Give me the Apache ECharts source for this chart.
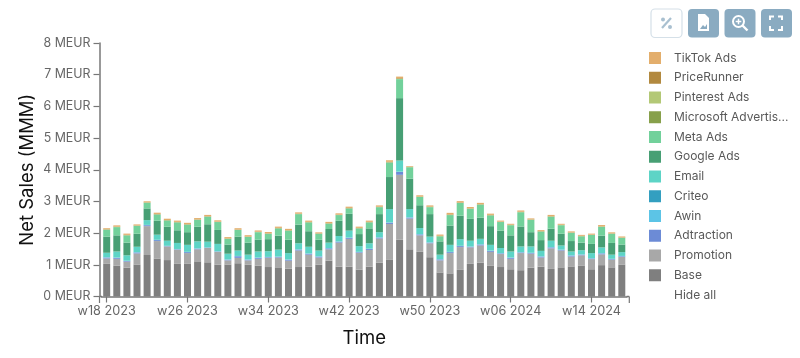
<!DOCTYPE html>
<html><head><meta charset="utf-8">
<style>html,body{margin:0;padding:0;background:#fff}#c{width:800px;height:358px}</style>
<script src="https://cdn.jsdelivr.net/npm/echarts@6/dist/echarts.min.js"></script>
</head><body><div id="c"></div>
<script>
const weeks = ['w18 2023','w19 2023','w20 2023','w21 2023','w22 2023','w23 2023','w24 2023','w25 2023','w26 2023','w27 2023','w28 2023','w29 2023','w30 2023','w31 2023','w32 2023','w33 2023','w34 2023','w35 2023','w36 2023','w37 2023','w38 2023','w39 2023','w40 2023','w41 2023','w42 2023','w43 2023','w44 2023','w45 2023','w46 2023','w47 2023','w48 2023','w49 2023','w50 2023','w51 2023','w52 2023','w01 2024','w02 2024','w03 2024','w04 2024','w05 2024','w06 2024','w07 2024','w08 2024','w09 2024','w10 2024','w11 2024','w12 2024','w13 2024','w14 2024','w15 2024','w16 2024','w17 2024'];
const base = [1.03,.97,.91,1.01,1.31,1.20,1.15,1.03,1.03,1.11,1.08,1.00,1.01,1.05,1.00,.97,.93,.92,.88,.93,.94,1.00,1.13,.94,.94,.85,.94,1.07,1.17,1.79,1.49,1.41,1.24,.76,.73,.84,1.03,1.07,.98,.93,.86,.83,.91,.94,.87,.92,.95,.98,.86,.99,.92,1.01];
const promotion = [.17,.22,.19,.35,.91,.55,.43,.45,.34,.38,.45,.41,.13,.17,.14,.22,.29,.31,.25,.52,.38,.23,.36,.76,.88,.53,.53,.76,1.12,2.05,.97,.52,.44,.38,.64,.72,.52,.54,.43,.41,.33,.54,.44,.29,.65,.53,.31,.32,.32,.34,.24,.24];
const adtraction = [.03,.03,.02,.03,.03,.03,.01,.01,.03,.02,.01,.01,.02,.05,.02,.03,.02,.02,.03,.03,.03,.03,.03,.03,.03,.02,.03,.03,.04,.09,.03,.03,.02,.03,.03,.03,.02,.03,.03,.02,.03,.02,.02,.03,.03,.02,.03,.02,.02,.03,.02,.02];
const awin = [.01,.01,.01,.01,.01,.01,.01,.01,.01,.01,.01,.01,.01,.01,.01,.01,.01,.01,.01,.01,.01,.01,.01,.01,.01,.01,.01,.01,.01,.01,.01,.01,.01,.01,.01,.01,.01,.01,.01,.01,.01,.01,.01,.01,.01,.01,.01,.01,.01,.01,.01,.01];
const criteo = [0,0,0,0,0,0,0,0,0,0,0,0,0,0,0,0,0,0,0,0,0,0,0,0,0,0,0,0,0,0,0,0,0,0,0,0,0,0,0,0,0,0,0,0,0,0,0,0,0,0,0,0];
const email = [.14,.19,.17,.17,.15,.16,.16,.19,.22,.22,.18,.23,.18,.17,.15,.19,.18,.22,.20,.19,.21,.18,.17,.17,.22,.18,.17,.16,.42,.35,.26,.19,.18,.14,.22,.21,.18,.17,.18,.16,.19,.18,.20,.17,.20,.13,.12,.13,.16,.18,.13,.12];
const googleAds = [.51,.51,.40,.41,.37,.44,.44,.40,.40,.46,.55,.44,.29,.44,.38,.37,.38,.44,.42,.59,.49,.34,.43,.48,.53,.38,.47,.57,1.01,1.97,.96,.72,.71,.42,.61,.74,.69,.67,.59,.55,.51,.63,.45,.34,.38,.37,.33,.24,.29,.37,.37,.24];
const metaAds = [.22,.26,.23,.25,.18,.20,.20,.25,.24,.22,.24,.25,.18,.21,.18,.24,.17,.23,.29,.33,.28,.19,.17,.18,.17,.18,.19,.22,.46,.60,.36,.26,.22,.16,.33,.40,.32,.41,.34,.27,.32,.45,.39,.27,.38,.27,.26,.20,.28,.28,.29,.21];
const microsoftAds = [0,0,0,0,0,0,0,0,0,0,0,0,0,0,0,0,0,0,0,0,0,0,0,0,0,0,0,0,0,0,0,0,0,0,0,0,0,0,0,0,0,0,0,0,0,0,0,0,0,0,0,0];
const pinterestAds = [.005,.005,.005,.005,.005,.005,.005,.005,.005,.005,.005,.005,.005,.005,.005,.005,.005,.005,.005,.005,.005,.005,.005,.005,.005,.005,.005,.005,.005,.01,.005,.005,.005,.005,.005,.005,.005,.005,.005,.005,.005,.005,.005,.005,.005,.005,.005,.005,.005,.005,.005,.005];
const priceRunner = [.01,.01,.01,.01,.01,.01,.01,.01,.01,.01,.01,.01,.01,.01,.01,.01,.01,.01,.01,.01,.01,.01,.01,.01,.01,.01,.01,.01,.015,.02,.01,.01,.01,.01,.015,.015,.01,.01,.01,.01,.01,.01,.01,.01,.01,.01,.01,.01,.01,.01,.01,.01];
const tiktokAds = [.03,.04,.04,.03,.03,.04,.04,.04,.04,.04,.04,.04,.04,.04,.04,.04,.04,.04,.04,.04,.04,.03,.04,.04,.04,.04,.04,.04,.05,.05,.02,.04,.04,.04,.05,.04,.04,.04,.04,.03,.03,.04,.03,.03,.04,.03,.03,.03,.03,.04,.03,.03];

const names = ['Base','Promotion','Adtraction','Awin','Criteo','Email','Google Ads','Meta Ads','Microsoft Advertising','Pinterest Ads','PriceRunner','TikTok Ads'];
const values = [base,promotion,adtraction,awin,criteo,email,googleAds,metaAds,microsoftAds,pinterestAds,priceRunner,tiktokAds];
const colors = ['#7f7f7f','#a8a8a8','#6c8bd6','#5cc4e6','#339fc0','#5dd4c6','#479f74','#72d19b','#87a04b','#b3c876','#b2893f','#e3ae6c'];
const axisCol = '#777';
const textCol = '#666';
const nameCol = '#111';
const font = 'Inter';

function btn(x, filled){
  return {type:'rect',shape:{x:x,y:9,width:31,height:28.5,r:4},
    style:filled?{fill:'#8aabc1'}:{fill:'#fff',stroke:'#d5e0e8',lineWidth:1.2},silent:true};
}
function poly(points, stroke, w){
  return {type:'polyline',shape:{points:points},style:{fill:'none',stroke:stroke,lineWidth:w},silent:true};
}
function seg(x1,y1,x2,y2,stroke,w){
  return {type:'line',shape:{x1:x1,y1:y1,x2:x2,y2:y2},style:{stroke:stroke,lineWidth:w},silent:true};
}
const chart = echarts.init(document.getElementById('c'),null,{renderer:'canvas'});
chart.setOption({
  animation:false,
  color:colors,
  textStyle:{fontFamily:font},
  grid:{left:101.65,width:525.2,top:43,bottom:61.5,containLabel:false},
  legend:{orient:'vertical',left:649,top:52,padding:0,itemWidth:12,itemHeight:12,itemGap:7.75,
    data:names.slice().reverse(),icon:'rect',selectedMode:false,
    textStyle:{fontFamily:font,fontSize:12,color:'#595959',width:116,overflow:'truncate',ellipsis:'...',padding:[0,0,0,8]}},
  xAxis:{type:'category',data:weeks,name:'Time',nameLocation:'middle',nameGap:32,
    nameTextStyle:{fontFamily:font,fontSize:18.5,color:nameCol},
    axisLine:{show:true,lineStyle:{color:axisCol,width:1.5}},
    axisTick:{show:true,length:6,alignWithLabel:true,interval:7,lineStyle:{color:axisCol,width:1.2}},
    axisLabel:{interval:7,fontFamily:font,fontSize:12.7,color:textCol,margin:8}},
  yAxis:{type:'value',min:0,max:8,interval:1,offset:2.15,name:'Net Sales (MMM)',nameLocation:'middle',nameGap:63,nameMoveOverlap:false,
    nameTextStyle:{fontFamily:font,fontSize:18.5,color:nameCol},
    splitLine:{show:false},
    axisLine:{show:true,lineStyle:{color:axisCol,width:1.5}},
    axisTick:{show:true,length:6,lineStyle:{color:axisCol,width:1.2}},
    axisLabel:{formatter:v=>v+' MEUR',fontFamily:font,fontSize:12.4,color:textCol,margin:9}},
  series:names.map((n,k)=>({name:n,type:'bar',stack:'total',barWidth:7,
    itemStyle:{color:colors[k]},
    data:values[k]})),
  graphic:[
    seg(99.5,296.5,102,296.5,axisCol,1.5),seg(626.5,296.5,629.3,296.5,axisCol,1.5),
    seg(99.5,296.5,99.5,303,axisCol,1.2),seg(629.3,296.5,629.3,303,axisCol,1.2),
    btn(651,false),btn(688,true),btn(724.5,true),btn(761,true),
    seg(662,28,671,18,'#a9c0d0',2.2),
    {type:'circle',shape:{cx:663,cy:19.5,r:2},style:{fill:'#a9c0d0'},silent:true},
    {type:'circle',shape:{cx:670,cy:27,r:2},style:{fill:'#a9c0d0'},silent:true},
    {type:'polygon',shape:{points:[[698,14],[705,14],[709,18],[709,31],[698,31]]},style:{fill:'#fff'},silent:true},
    {type:'polygon',shape:{points:[[700,29],[703,25],[705,27],[707,24],[707,29]]},style:{fill:'#8aabc1'},silent:true},
    {type:'circle',shape:{cx:738.5,cy:21.5,r:5.5},style:{fill:'none',stroke:'#fff',lineWidth:2},silent:true},
    seg(742.5,25.5,747.5,30.5,'#fff',2.4),
    seg(735.7,21.5,741.3,21.5,'#fff',1.5),
    seg(738.5,18.7,738.5,24.3,'#fff',1.5),
    poly([[770,20],[770,16.5],[774,16.5]],'#fff',2),
    poly([[778,16.5],[782,16.5],[782,20]],'#fff',2),
    poly([[782,26],[782,30],[778,30]],'#fff',2),
    poly([[774,30],[770,30],[770,26]],'#fff',2),
    {type:'text',style:{x:674,y:295,text:'Hide all',fill:'#595959',font:'12px Inter',verticalAlign:'middle'},silent:true}
  ]
});
</script></body></html>
